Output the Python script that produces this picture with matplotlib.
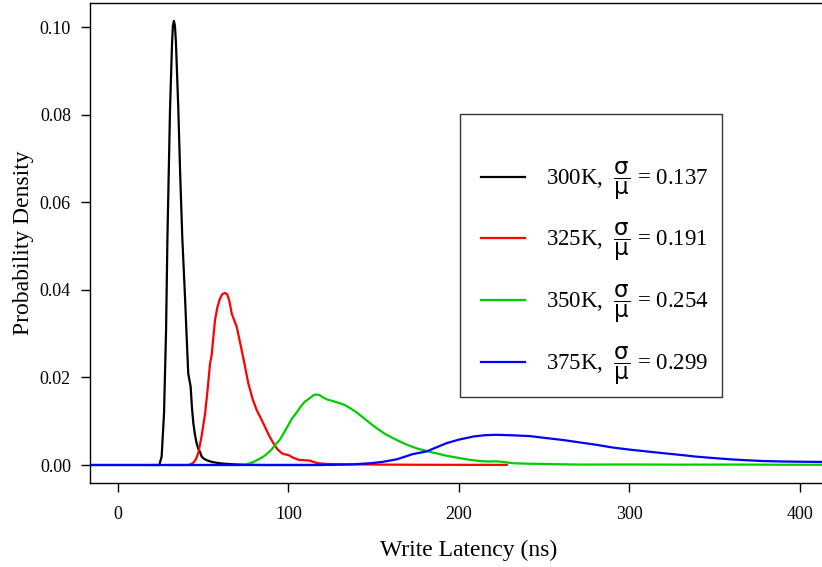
import matplotlib
matplotlib.use('Agg')
import matplotlib.pyplot as plt
from matplotlib.patches import Rectangle

plt.rcParams['font.family'] = ['Liberation Serif', 'DejaVu Serif']
plt.rcParams['mathtext.fontset'] = 'custom'
plt.rcParams['mathtext.rm'] = 'DejaVu Sans'
plt.rcParams['mathtext.it'] = 'DejaVu Sans:italic'

# 300K
black_x = [-16.4, 20, 24.2, 25.6, 27.0, 28.2, 29.0, 30.5, 31.7, 32.2, 32.8, 33.4, 34.0, 35.4,
           36.5, 37.7, 39.3, 40.3, 41.2, 42.6, 43.4, 44.2, 45.2, 46.1, 47.1, 48.1, 49.1,
           50.5, 52.0, 55.0, 57.9, 62.0, 68.6, 75.0, 85.0, 120.0]
black_y = [0, 0, 0, 0.0019, 0.0118, 0.0308, 0.052, 0.081, 0.0963, 0.1003, 0.1014, 0.1003,
           0.0963, 0.081, 0.066, 0.052, 0.0384, 0.029, 0.0209, 0.0179, 0.013, 0.0095,
           0.0068, 0.005, 0.0037, 0.0030, 0.0019, 0.0014, 0.0011, 0.0007, 0.0005, 0.0003,
           0.00015, 0.00005, 0, 0]

# 325K
red_x = [30, 41, 42.2, 44.2, 45.5, 47.1, 49, 51, 52.5, 54.0, 54.9, 56.9, 58.4, 59.8, 61.2,
         62.6, 64, 65.3, 66.7, 68.2, 69.6, 72.5, 74.5, 76.4, 79, 81.3, 84, 86.2, 88.5, 91.1,
         93.5, 96, 98, 99.9, 102.5, 105.8, 109, 112.6, 115.5, 117.5, 122, 128, 134, 150,
         180, 228]
red_y = [0, 0, 0.0001, 0.0005, 0.0012, 0.0027, 0.0065, 0.0115, 0.017, 0.0232, 0.0250,
         0.0331, 0.0362, 0.0380, 0.0390, 0.0393, 0.039, 0.0375, 0.0346, 0.0330, 0.0316,
         0.0263, 0.0225, 0.0187, 0.015, 0.0126, 0.0105, 0.0087, 0.0068, 0.0050, 0.0036,
         0.0027, 0.0024, 0.0023, 0.0017, 0.0012, 0.0011, 0.0010, 0.0006, 0.0004, 0.00025,
         0.0002, 0.00015, 0.0001, 0.00005, 0.00003]

# 350K
green_x = [20, 70, 75.5, 77.4, 80, 82.5, 85.2, 87.5, 90, 93.1, 95, 98, 101.9, 104.8, 107.5,
           109.7, 112.6, 114.5, 116.1, 118, 120, 122.4, 126, 130.2, 133, 136.1, 140, 143.9,
           148, 151.7, 157, 163.5, 169, 175.2, 183, 192.8, 200, 206, 212.3, 217, 222, 226,
           231.8, 240, 255, 271, 300, 330, 360, 400, 430]
green_y = [0, 0, 0.0002, 0.0004, 0.0008, 0.0013, 0.0019, 0.0026, 0.0035, 0.0050, 0.0058,
           0.0078, 0.0105, 0.0120, 0.0135, 0.0145, 0.0153, 0.0159, 0.0161, 0.0160, 0.0155,
           0.0150, 0.0146, 0.0141, 0.0137, 0.0130, 0.0120, 0.0108, 0.0095, 0.0084, 0.0070,
           0.0057, 0.0047, 0.0038, 0.0030, 0.0021, 0.0016, 0.0012, 0.0009, 0.0008, 0.00084,
           0.0007, 0.0004, 0.0003, 0.0002, 0.0001, 0.00012, 0.00008, 0.0001, 0.00006, 0.00005]

# 375K
blue_x = [-16.4, 110, 124, 134, 140, 147.8, 155, 163.5, 173, 181, 192.8, 200, 208.4, 215,
          222, 230, 241.6, 250, 261.2, 270, 280.8, 290, 300.3, 310, 319.8, 330, 339.4, 349,
          359, 368, 378.5, 390, 400, 412.9, 430]
blue_y = [0, 0, 0.00003, 0.0001, 0.0002, 0.0004, 0.0007, 0.0013, 0.0025, 0.0031, 0.0050,
          0.0058, 0.0065, 0.0068, 0.0069, 0.0068, 0.0066, 0.0062, 0.0057, 0.0052, 0.0046,
          0.0040, 0.0035, 0.0031, 0.0027, 0.0023, 0.0019, 0.0016, 0.0013, 0.0011, 0.0009,
          0.0008, 0.00075, 0.0007, 0.0006]

labels = ['300K', '325K', '350K', '375K']
ratios = ['0.137', '0.191', '0.254', '0.299']
colors = ['black', '#FF0000', '#00CD00', '#0000FF']

fig = plt.figure(figsize=(8.22, 5.67), dpi=100)
# 軸の右端は図の外まで伸ばす
ax = fig.add_axes([90 / 822, 84 / 567, 756.7 / 822, 480 / 567])

series = [(black_x, black_y), (red_x, red_y), (green_x, green_y), (blue_x, blue_y)]
handles = []
for (xs, ys), lab, r, c in zip(series, labels, ratios, colors):
    h, = ax.plot(xs, ys, color=c, lw=1.6,
                 label=lab + ',  ' + r'$\dfrac{\mathrm{\sigma}}{\mathrm{\mu}}$' + ' = ' + r)
    handles.append(h)

ax.set_xlim(-16.42, 427.4)
ax.set_ylim(-0.00411, 0.1055)
ax.set_xticks([0, 100, 200, 300, 400])
ax.set_yticks([0.0, 0.02, 0.04, 0.06, 0.08, 0.10])
ax.set_yticklabels(['0.00', '0.02', '0.04', '0.06', '0.08', '0.10'])
ax.tick_params(axis='both', direction='out', length=6.7, width=1, labelsize=13)
ax.tick_params(axis='x', pad=10)
ax.tick_params(axis='y', pad=7)
for s in ax.spines.values():
    s.set_linewidth(1)

ax.set_xlabel('Write Latency (ns)', fontsize=17, labelpad=12)
ax.set_ylabel('Probability Density', fontsize=17, labelpad=4)

# 凡例の枠
ax.add_patch(Rectangle(((460 - 90) / 756.7, (483 - 397) / 480), 262 / 756.7, 283 / 480,
                       transform=ax.transAxes, fill=False, edgecolor='#333333', lw=1,
                       zorder=5))
ax.legend(handles=handles, loc='center left', frameon=False, fontsize=16.5,
          bbox_to_anchor=((480.7 - 90) / 756.7, (483 - 273) / 480),
          borderpad=0, borderaxespad=0, handlelength=1.92, handletextpad=0.95,
          labelspacing=0.85)

plt.savefig('out.png', dpi=100)
plt.close()
